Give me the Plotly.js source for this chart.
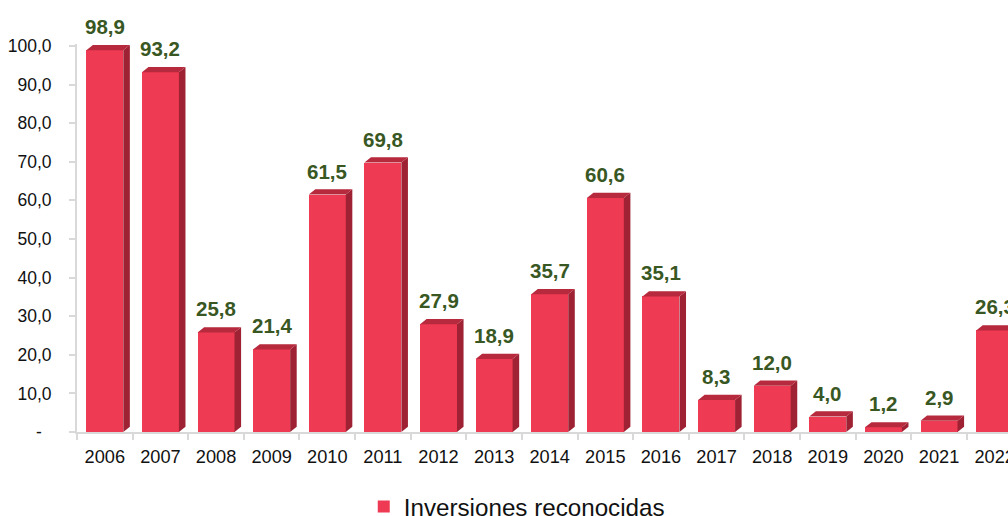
<!DOCTYPE html>
<html>
<head>
<meta charset="utf-8">
<script src="https://cdn.plot.ly/plotly-3.0.1.min.js"></script>
<style>
html,body{margin:0;padding:0;background:#fff;overflow:hidden;}
#chart{width:1008px;height:530px;}
</style>
</head>
<body>
<div id="chart"></div>
<script>
// ---- data ----
const years = [2006, 2007, 2008, 2009, 2010, 2011, 2012, 2013, 2014, 2015, 2016, 2017, 2018, 2019, 2020, 2021, 2022];
const inversiones = [98.9, 93.2, 25.8, 21.4, 61.5, 69.8, 27.9, 18.9, 35.7, 60.6, 35.1, 8.3, 12.0, 4.0, 1.2, 2.9, 26.3];
const seriesName = 'Inversiones reconocidas';
const yTickVals = [0, 10, 20, 30, 40, 50, 60, 70, 80, 90, 100];

// ---- style ----
const FRONT = '#EE3A52', SIDE = '#9E2233', TOP = '#B7293D';
const LABEL = '#385723';
const AXIS = '#D9D9D9';
const FONT = 'Liberation Sans, Arial, sans-serif';
const barW = 0.665, dx = 0.118, dy = 1.35;

const fmt = v => v.toFixed(1).replace('.', ',');
const yTickText = yTickVals.map(v => v === 0 ? '-\u00a0\u00a0' : fmt(v));

// side & top faces as polygons (data coordinates)
const sx = [], sy = [], tx = [], ty = [];
years.forEach((x, i) => {
  const v = inversiones[i];
  const r = x + barW / 2, l = x - barW / 2;
  sx.push(r, r + dx, r + dx, r, r, null);
  sy.push(0, dy, v + dy, v, 0, null);
  tx.push(l, l + dx, r + dx, r, l, null);
  ty.push(v, v + dy, v + dy, v, v, null);
});

const boundaries = years.map(y => y - 0.5).concat([years[years.length - 1] + 0.5]);

const traces = [
  {type: 'bar', x: years, y: inversiones, width: barW, name: seriesName,
   marker: {color: FRONT, line: {width: 0}}, hoverinfo: 'x+y'},
  {type: 'scatter', x: sx, y: sy, mode: 'lines', fill: 'toself', fillcolor: SIDE,
   line: {width: 0, color: SIDE}, showlegend: false, hoverinfo: 'skip'},
  {type: 'scatter', x: tx, y: ty, mode: 'lines', fill: 'toself', fillcolor: TOP,
   line: {width: 0, color: TOP}, showlegend: false, hoverinfo: 'skip'}
];

const annotations = years.map((x, i) => ({
  x: x, y: inversiones[i], xref: 'x', yref: 'y',
  text: '<b>' + fmt(inversiones[i]) + '</b>', showarrow: false,
  yanchor: 'bottom', xanchor: 'center', yshift: 10,
  font: {family: FONT, size: 20.5, color: LABEL}
}));

const layout = {
  width: 1008, height: 530,
  margin: {l: 77, r: 0, t: 44, b: 98, pad: 0},
  paper_bgcolor: '#fff', plot_bgcolor: '#fff',
  font: {family: FONT, size: 17, color: '#111'},
  showlegend: true,
  legend: {orientation: 'h', x: 0.308, xanchor: 'left', y: -0.193, yanchor: 'middle',
           font: {family: FONT, size: 24.2, color: '#111'}, bgcolor: 'rgba(0,0,0,0)'},
  xaxis: {
    range: [2005.5, 2022.24], type: 'linear',
    tickmode: 'array', tickvals: years, ticktext: years.map(String),
    ticks: '', ticklabelstandoff: 7, ticklabeloverflow: 'allow',
    showgrid: false, zeroline: false,
    showline: true, linecolor: AXIS, linewidth: 2,
    minor: {tickmode: 'array', tickvals: boundaries, ticks: 'outside', ticklen: 6,
            tickwidth: 2, tickcolor: AXIS, showgrid: false},
    tickfont: {family: FONT, size: 18.2, color: '#111'},
    automargin: false,
    fixedrange: true
  },
  yaxis: {
    range: [0, 100.5],
    tickmode: 'array', tickvals: yTickVals, ticktext: yTickText,
    ticks: 'outside', ticklen: 6, tickwidth: 2, tickcolor: AXIS,
    ticklabelstandoff: 14,
    showgrid: false, zeroline: false,
    showline: true, linecolor: AXIS, linewidth: 2,
    tickfont: {family: FONT, size: 17.5, color: '#111'},
    automargin: false,
    fixedrange: true
  },
  bargap: 0,
  annotations: annotations
};

Plotly.newPlot('chart', traces, layout, {displayModeBar: false, staticPlot: true});
</script>
</body>
</html>
